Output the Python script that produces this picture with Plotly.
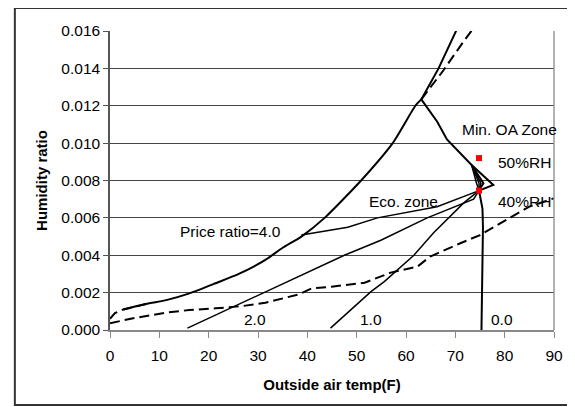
import plotly.graph_objects as go

# main boundary curve (solid), below and above the vertex
main_lo_t = [2.7, 8.0, 11.4, 16.1, 21.4, 26.1, 31.5, 35.0, 38.8, 43.5, 50.9, 57.3, 61.9, 63.1]
main_lo_w = [0.0011, 0.00143, 0.0016, 0.00196, 0.0025, 0.0030, 0.00375, 0.0044, 0.0050, 0.0060,
             0.0080, 0.0100, 0.0120, 0.01234]
main_hi_t = [63.1, 66.6, 70.5]
main_hi_w = [0.01234, 0.0140, 0.0162]

# dashed twin of the main curve: visible at the left start and above the vertex
twin_lo_t = [0.0, 1.0, 2.7, 8.0]
twin_lo_w = [0.0006, 0.0009, 0.0011, 0.00143]
twin_hi_t = [63.1, 64.6, 67.6, 71.4, 73.8]
twin_hi_w = [0.01234, 0.01284, 0.0139, 0.01534, 0.0162]

# lower dashed curve
low_t = [0, 4.7, 11.4, 16.1, 21.4, 26.8, 31.5, 34.5, 38.2, 40.8, 44.9, 51.6, 56.9, 62.3, 64.9,
         71.0, 75.0, 85.0, 90.0]
low_w = [0.00036, 0.00063, 0.00093, 0.00107, 0.00116, 0.00128, 0.00146, 0.00165, 0.0019, 0.00222,
         0.00232, 0.00253, 0.00307, 0.00339, 0.00393, 0.00464, 0.00508, 0.0066, 0.00705]

# price ratio curves (each ends in the fan at the top of the eco zone)
r40_t = [38.8, 48.2, 54.2, 66.3, 74.8, 74.3, 73.3]
r40_w = [0.00508, 0.0055, 0.0060, 0.0066, 0.00746, 0.00785, 0.00883]
r20_t = [15.7, 31.1, 38.2, 47.5, 54.9, 64.3, 73.7, 74.8, 74.8, 73.3]
r20_w = [0.0001, 0.0020, 0.00285, 0.0040, 0.0048, 0.0060, 0.0070, 0.00746, 0.00785, 0.00883]
r10_t = [44.7, 52.9, 55.6, 61.6, 65.6, 71.7, 74.8, 75.2, 73.3]
r10_w = [0.0001, 0.00205, 0.00259, 0.0040, 0.0052, 0.0068, 0.00746, 0.00785, 0.00883]
r00_t = [75.3, 75.5, 75.6, 75.5, 75.1, 74.8, 75.7, 73.3]
r00_w = [0.0, 0.003, 0.0055, 0.0065, 0.0072, 0.00746, 0.00785, 0.00883]

# min OA zone boundary
oa_t = [63.1, 66.3, 68.3, 71.7, 73.3, 77.7, 74.8]
oa_w = [0.01234, 0.01116, 0.0102, 0.00928, 0.00883, 0.00776, 0.00746]

# red points
pt_t = [74.8, 74.8]
pt_w = [0.0092, 0.00746]

# labels
lab_text = ["Price ratio=4.0", "2.0", "1.0", "0.0", "Eco. zone", "Min. OA Zone", "50%RH", "40%RH"]
lab_t = [24.4, 29.4, 53.0, 79.5, 59.4, 81.0, 84.1, 84.0]
lab_w = [0.00526, 0.00057, 0.00057, 0.00057, 0.00687, 0.01074, 0.00895, 0.00687]

fig = go.Figure()

dashed = dict(color='black', width=2, dash='10px,5px')
# the page body has an 8px margin, so the figure is 8px smaller than the window
fig.add_trace(go.Scatter(x=low_t, y=low_w, mode='lines', line=dashed))
fig.add_trace(go.Scatter(x=twin_lo_t, y=twin_lo_w, mode='lines', line=dashed))
fig.add_trace(go.Scatter(x=twin_hi_t, y=twin_hi_w, mode='lines', line=dashed))
fig.add_trace(go.Scatter(x=main_lo_t, y=main_lo_w, mode='lines',
                         line=dict(color='black', width=2, shape='spline', smoothing=0.6)))
fig.add_trace(go.Scatter(x=main_hi_t, y=main_hi_w, mode='lines', line=dict(color='black', width=2)))
for xs, ys, w in [(r40_t, r40_w, 1.5), (r20_t, r20_w, 1.5), (r10_t, r10_w, 1.5),
                  (r00_t, r00_w, 2), (oa_t, oa_w, 2)]:
    fig.add_trace(go.Scatter(x=xs, y=ys, mode='lines', line=dict(color='black', width=w)))
fig.add_trace(go.Scatter(x=pt_t, y=pt_w, mode='markers',
                         marker=dict(color='#ff0000', size=6, symbol='square')))

for txt, tx, ty in zip(lab_text, lab_t, lab_w):
    fig.add_annotation(x=tx, y=ty, text=txt, showarrow=False, xref='x', yref='y',
                       font=dict(size=15.5, color='black'))

# outer chart border and right plot edge
fig.add_shape(type='rect', xref='paper', yref='paper', x0=-0.2143, x1=1.045, y0=-0.2508, y1=1.0769,
              line=dict(color='#333333', width=2), layer='below')
fig.add_shape(type='line', xref='paper', yref='paper', x0=1, x1=1, y0=0, y1=1,
              line=dict(color='#999999', width=1.5))

fig.update_layout(
    width=567, height=399,
    margin=dict(l=102, r=17, t=23, b=77),
    paper_bgcolor='white', plot_bgcolor='white',
    showlegend=False,
    font=dict(family='Arial, Liberation Sans, sans-serif', color='black', size=15),
    xaxis=dict(
        range=[0, 90], dtick=10, tick0=0,
        showgrid=False, zeroline=False,
        showline=True, linecolor='#888888', linewidth=1.5,
        ticks='outside', ticklen=6, tickcolor='#888888',
        tickfont=dict(size=15.5), ticklabelstandoff=5,
        title=dict(text='<b>Outside air temp(F)</b>', font=dict(size=15), standoff=16),
    ),
    yaxis=dict(
        range=[0, 0.016], dtick=0.002, tick0=0, tickformat='.3f',
        showgrid=True, gridcolor='#444444', gridwidth=1, zeroline=False,
        showline=True, linecolor='#555555', linewidth=1.5,
        ticks='outside', ticklen=5, tickcolor='#555555',
        tickfont=dict(size=15.5),
        title=dict(text='<b>Humidity ratio</b>', font=dict(size=15), standoff=10),
    ),
)

fig.write_html("out.html")
